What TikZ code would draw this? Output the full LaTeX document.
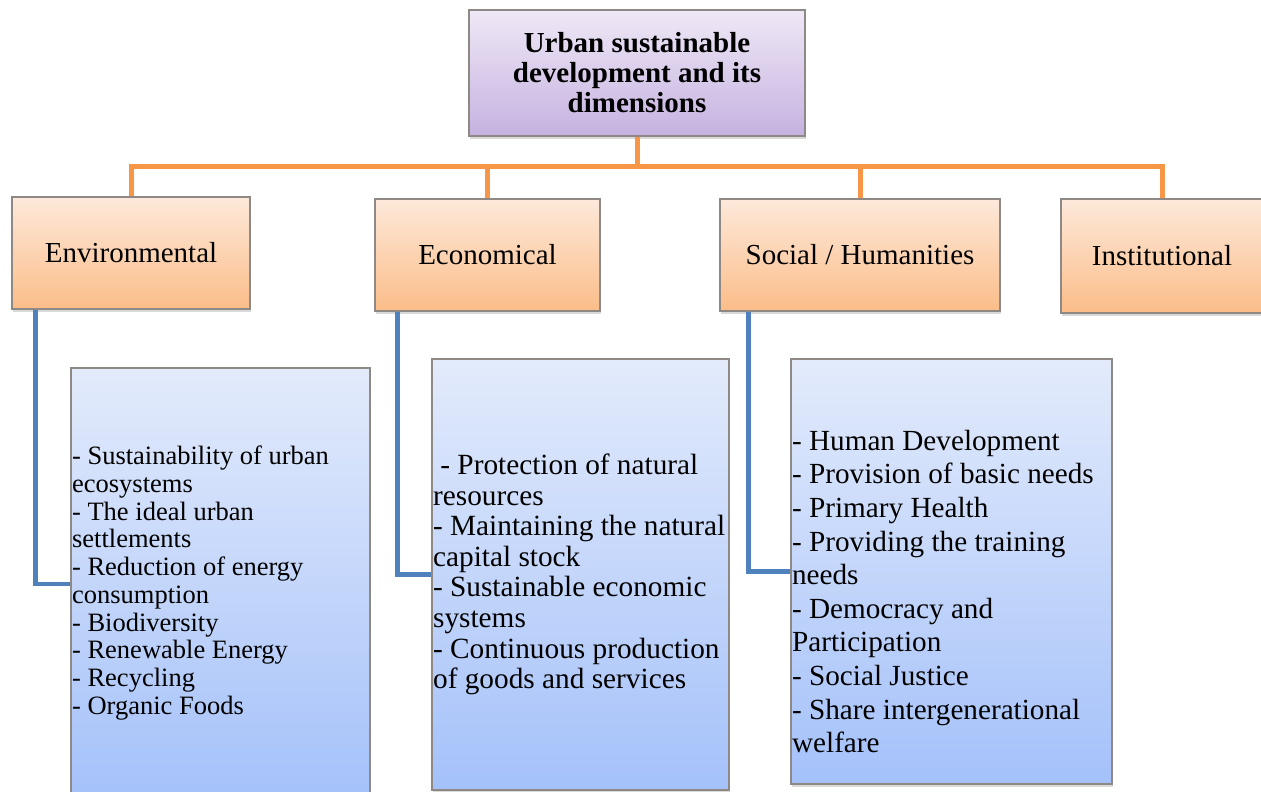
\documentclass[tikz,border=0pt]{standalone}
\usepackage{fontspec}
\setmainfont{Liberation Serif}
\usetikzlibrary{shadows, positioning}

\definecolor{boxgray}{HTML}{8E8985}
\definecolor{titletop}{HTML}{EFE8F6}
\definecolor{titlebot}{HTML}{C5B2E0}
\definecolor{headtop}{HTML}{FDE9DA}
\definecolor{headbot}{HTML}{FBBD89}
\definecolor{listtop}{HTML}{E3EBFB}
\definecolor{listbot}{HTML}{A4C1FA}
\definecolor{lineorange}{HTML}{F79646}
\definecolor{lineblue}{HTML}{4F81BD}

\begin{document}
\begin{tikzpicture}[x=1pt,y=-1pt,
	dimbox/.style={draw=boxgray, line width=1.2pt, drop shadow={opacity=.3, shadow xshift=1pt, shadow yshift=-3pt}},
	titlebox/.style={dimbox, top color=titletop, bottom color=titlebot, minimum width=336pt, minimum height=126pt, align=center, font=\fontsize{29}{30}\selectfont\bfseries},
	headbox/.style={dimbox, top color=headtop, bottom color=headbot, minimum height=112pt, font=\fontsize{29}{30}\selectfont},
	listbox/.style={dimbox, top color=listtop, bottom color=listbot},
	listtext/.style={anchor=west, align=left, inner xsep=1.5pt},
	orangeline/.style={draw=lineorange, line width=5pt},
	blueline/.style={draw=lineblue, line width=4.5pt}]
	\useasboundingbox (0,0) rectangle (1261,792);

	\node[titlebox] (urban) at (637,73) {Urban sustainable\\development and its\\dimensions};
	\node[headbox, minimum width=238pt] (env) at (131,253) {Environmental};
	\node[headbox, minimum width=225pt] (econ) at (487.5,255) {Economical};
	\node[headbox, minimum width=280pt] (social) at (860,255) {Social / Humanities};
	\node[headbox, minimum width=202pt, minimum height=114pt] (inst) at (1162,256) {Institutional};

	\node[listbox, minimum width=299pt, minimum height=432pt] (envbox) at (220.5,584) {};
	\node[listbox, minimum width=297pt, minimum height=431pt] (econbox) at (580.5,574.5) {};
	\node[listbox, minimum width=321pt, minimum height=425pt] (socialbox) at (951.5,571.5) {};

	\node[listtext, font=\fontsize{26.5}{27.7}\selectfont, yshift=1pt] (envlist) at (envbox.west) {- Sustainability of urban\\ecosystems\\- The ideal urban\\settlements\\- Reduction of energy\\consumption\\- Biodiversity\\- Renewable Energy\\- Recycling\\- Organic Foods};
	\node[listtext, font=\fontsize{29.3}{30.6}\selectfont] (econlist) at (econbox.west) {\hspace*{.25em}- Protection of natural\\resources\\- Maintaining the natural\\capital stock\\- Sustainable economic\\systems\\- Continuous production\\of goods and services};
	\node[listtext, font=\fontsize{29.2}{33.6}\selectfont, yshift=-20pt] (sociallist) at (socialbox.west) {- Human Development\\- Provision of basic needs\\- Primary Health\\- Providing the training\\needs\\- Democracy and\\Participation\\- Social Justice\\- Share intergenerational\\welfare};

	\coordinate (bus) at (637,166);
	\draw[orangeline] (urban.south) -- (bus);
	\draw[orangeline] (env.north) |- (bus) -| (inst.north);
	\draw[orangeline] (econ.north) -- (econ.north |- bus);
	\draw[orangeline] (social.north) -- (social.north |- bus);

	\draw[blueline] ([xshift=24pt]env.south west) |- (envbox.west);
	\draw[blueline] ([xshift=23pt]econ.south west) |- (econbox.west);
	\draw[blueline] ([xshift=29pt]social.south west) |- (socialbox.west);
\end{tikzpicture}
\end{document}
